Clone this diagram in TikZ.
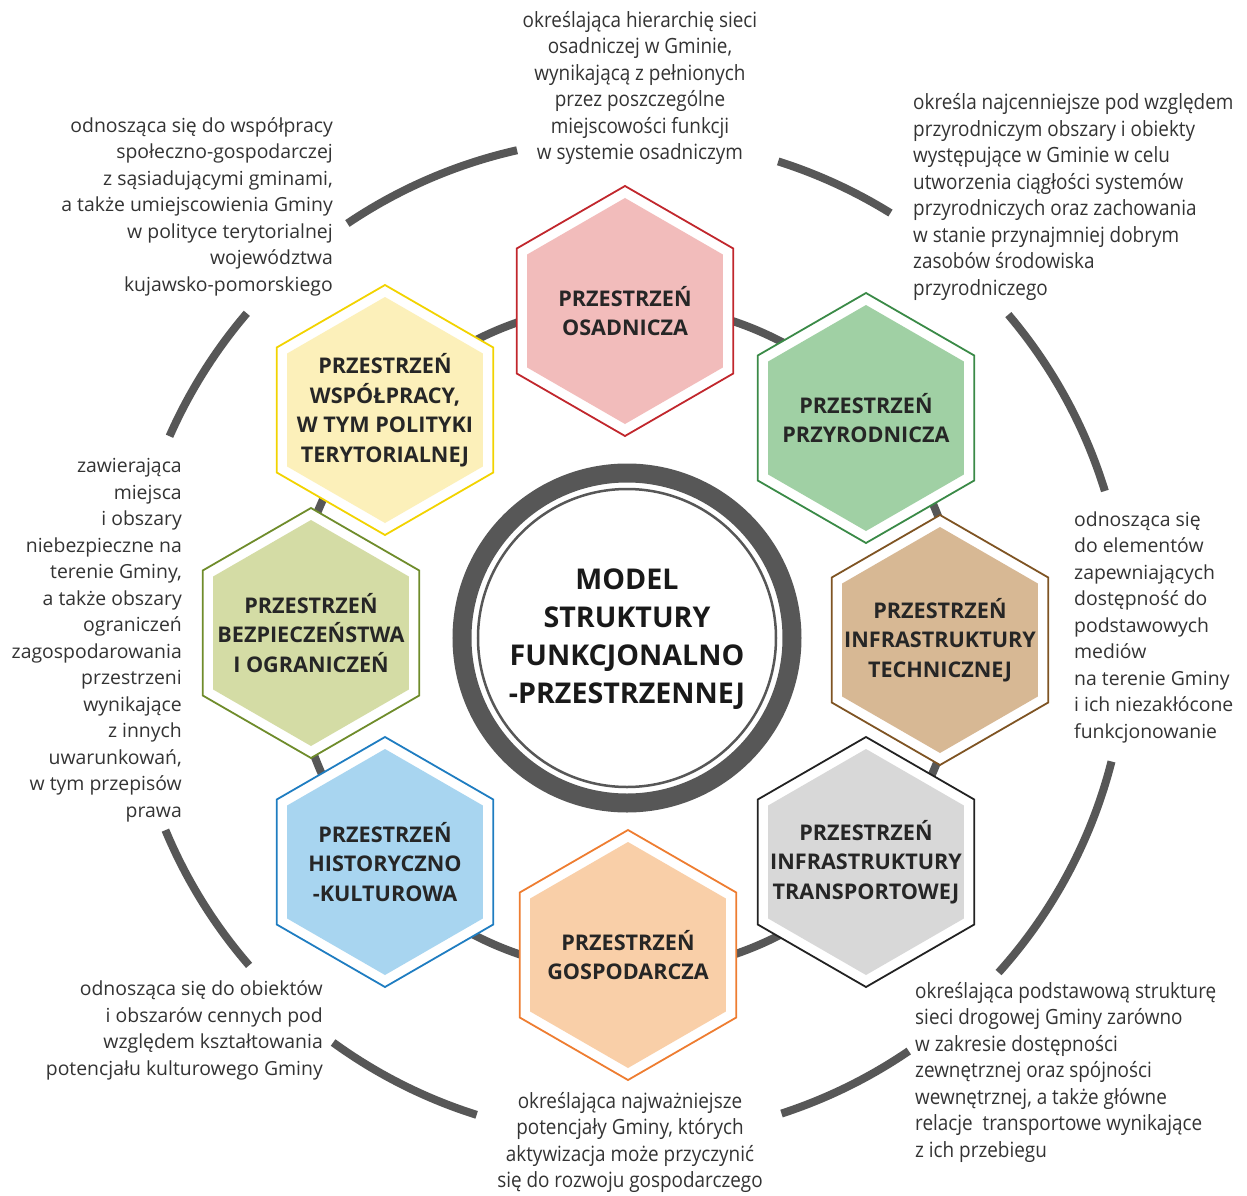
\documentclass[tikz,border=0pt]{standalone}
\usepackage{fontspec}
\setmainfont{Open Sans}
\newfontfamily\narrowfont[FakeStretch=0.9]{Open Sans}
\usetikzlibrary{shapes.geometric,positioning}

\definecolor{ringgray}{HTML}{575757}
\definecolor{osadline}{HTML}{C1272D}
\definecolor{osadfill}{HTML}{F2BCBB}
\definecolor{przyrline}{HTML}{3A8A47}
\definecolor{przyrfill}{HTML}{A0D0A4}
\definecolor{techline}{HTML}{7F5423}
\definecolor{techfill}{HTML}{D7B894}
\definecolor{transpline}{HTML}{222222}
\definecolor{transpfill}{HTML}{D8D8D8}
\definecolor{gospline}{HTML}{EE7D31}
\definecolor{gospfill}{HTML}{F9CFA8}
\definecolor{histline}{HTML}{1F7DC1}
\definecolor{histfill}{HTML}{A8D5F0}
\definecolor{bezpline}{HTML}{6F8C2B}
\definecolor{bezpfill}{HTML}{D4DCA5}
\definecolor{wspline}{HTML}{F2D300}
\definecolor{wspfill}{HTML}{FCF0BA}

\begin{document}
\begin{tikzpicture}
%Model of the functional-spatial structure
	[
	 %Styles
	 x=1pt, y=1pt,
	 ring_line/.style={draw=ringgray, line width=8pt},
	 hex_outer/.style={regular polygon, regular polygon sides=6, shape border rotate=30,
	   minimum size=250pt, inner sep=0pt, fill=white, line width=1.8pt, draw=#1},
	 hex_inner/.style={regular polygon, regular polygon sides=6, shape border rotate=30,
	   minimum size=226pt, inner sep=0pt, fill=#1},
	 hex_label/.style={align=center, inner sep=0pt, text=black!85,
	   font=\fontsize{21.6}{29.5}\selectfont\bfseries},
	 core_label/.style={align=center, inner sep=0pt, text=black!90,
	   font=\fontsize{28.6}{38}\selectfont\bfseries},
	 desc_text/.style={inner sep=0pt, text=black!80, font=\fontsize{19.4}{26.5}\selectfont},
	 narrow_text/.style={inner sep=0pt, text=black!80, font=\fontsize{21}{26.5}\selectfont\narrowfont}
	]
	\useasboundingbox (-627,-557) rectangle (620,638);

	%Rings
	\draw[ring_line] (0,0) circle (334pt);
	\draw[ring_line] (124:500pt) arc (124:102.7:500pt);
	\draw[ring_line] (72.4:500pt) arc (72.4:58.2:500pt);
	\draw[ring_line] (40.3:500pt) arc (40.3:17.1:500pt);
	\draw[ring_line] (-14.3:500pt) arc (-14.3:-42:500pt);
	\draw[ring_line] (-55.7:500pt) arc (-55.7:-72:500pt);
	\draw[ring_line] (-107.5:500pt) arc (-107.5:-126:500pt);
	\draw[ring_line] (-139.1:500pt) arc (-139.1:-157.4:500pt);
	\draw[ring_line] (156.2:500pt) arc (156.2:139.5:500pt);

	%Core
	\node (core) [circle, draw=ringgray, line width=19pt, fill=white, minimum size=330pt] at (0,0) {};
	\node (core_inner) [circle, draw=ringgray, line width=2.5pt, minimum size=298pt] at (core) {};
	\node (model) [core_label] at (0,-1) {MODEL\\STRUKTURY\\FUNKCJONALNO\\-PRZESTRZENNEJ};

	%Hexagons
	\node (osad_hex) [hex_outer=osadline] at (-2,327) {};
	\node (osad_fill) [hex_inner=osadfill] at (osad_hex) {};
	\node (osad) [hex_label] at (osad_hex) {PRZESTRZEŃ\\OSADNICZA};

	\node (przyr_hex) [hex_outer=przyrline] at (239,220) {};
	\node (przyr_fill) [hex_inner=przyrfill] at (przyr_hex) {};
	\node (przyr) [hex_label] at (przyr_hex) {PRZESTRZEŃ\\PRZYRODNICZA};

	\node (tech_hex) [hex_outer=techline] at (313,-2) {};
	\node (tech_fill) [hex_inner=techfill] at (tech_hex) {};
	\node (tech) [hex_label] at (tech_hex) {PRZESTRZEŃ\\INFRASTRUKTURY\\TECHNICZNEJ};

	\node (transp_hex) [hex_outer=transpline] at (239,-224) {};
	\node (transp_fill) [hex_inner=transpfill] at (transp_hex) {};
	\node (transp) [hex_label] at (transp_hex) {PRZESTRZEŃ\\INFRASTRUKTURY\\TRANSPORTOWEJ};

	\node (gosp_hex) [hex_outer=gospline] at (1,-317) {};
	\node (gosp_fill) [hex_inner=gospfill] at (gosp_hex) {};
	\node (gosp) [hex_label] at (gosp_hex) {PRZESTRZEŃ\\GOSPODARCZA};

	\node (hist_hex) [hex_outer=histline] at (-242,-224) {};
	\node (hist_fill) [hex_inner=histfill] at (hist_hex) {};
	\node (hist) [hex_label] at (hist_hex) {PRZESTRZEŃ\\HISTORYCZNO\\-KULTUROWA};

	\node (bezp_hex) [hex_outer=bezpline] at (-316,5) {};
	\node (bezp_fill) [hex_inner=bezpfill] at (bezp_hex) {};
	\node (bezp) [hex_label] at (bezp_hex) {PRZESTRZEŃ\\BEZPIECZEŃSTWA\\I OGRANICZEŃ};

	\node (wsp_hex) [hex_outer=wspline] at (-242,228) {};
	\node (wsp_fill) [hex_inner=wspfill] at (wsp_hex) {};
	\node (wsp) [hex_label] at (wsp_hex) {PRZESTRZEŃ\\WSPÓŁPRACY,\\W TYM POLITYKI\\TERYTORIALNEJ};

	%Descriptions
	\node (osad_desc) [narrow_text, align=center] at (13,550)
	  {określająca hierarchię sieci\\osadniczej w Gminie,\\wynikającą z pełnionych\\przez poszczególne\\miejscowości funkcji\\w systemie osadniczym};
	\node (przyr_desc) [narrow_text, align=left, anchor=west] at (286,441)
	  {określa najcenniejsze pod względem\\przyrodniczym obszary i obiekty\\występujące w Gminie w celu\\utworzenia ciągłości systemów\\przyrodniczych oraz zachowania\\w stanie przynajmniej dobrym\\zasobów środowiska\\przyrodniczego};
	\node (tech_desc) [desc_text, align=left, anchor=west] at (447,11)
	  {odnosząca się\\do elementów\\zapewniających\\dostępność do\\podstawowych\\mediów\\na terenie Gminy\\i ich niezakłócone\\funkcjonowanie};
	\node (transp_desc) [narrow_text, align=left, anchor=west] at (288,-434)
	  {określająca podstawową strukturę\\sieci drogowej Gminy zarówno\\w zakresie dostępności\\zewnętrznej oraz spójności\\wewnętrznej, a także główne\\relacje~ transportowe wynikające\\z ich przebiegu};
	\node (gosp_desc) [narrow_text, align=center] at (3,-504.5)
	  {określająca najważniejsze\\potencjały Gminy, których\\aktywizacja może przyczynić\\się do rozwoju gospodarczego};
	\node (hist_desc) [desc_text, align=right, anchor=east] at (-304,-392.5)
	  {odnosząca się do obiektów\\i obszarów cennych pod\\względem kształtowania\\potencjału kulturowego Gminy};
	\node (bezp_desc) [desc_text, align=right, anchor=east] at (-445,-2)
	  {zawierająca\\miejsca\\i obszary\\niebezpieczne na\\terenie Gminy,\\a także obszary\\ograniczeń\\zagospodarowania\\przestrzeni\\wynikające\\z innych\\uwarunkowań,\\w tym przepisów\\prawa};
	\node (wsp_desc) [desc_text, align=right, anchor=east] at (-294,431.5)
	  {odnosząca się do współpracy\\społeczno-gospodarczej\\z sąsiadującymi gminami,\\a także umiejscowienia Gminy\\w polityce terytorialnej\\województwa\\kujawsko-pomorskiego};
\end{tikzpicture}
\end{document}
